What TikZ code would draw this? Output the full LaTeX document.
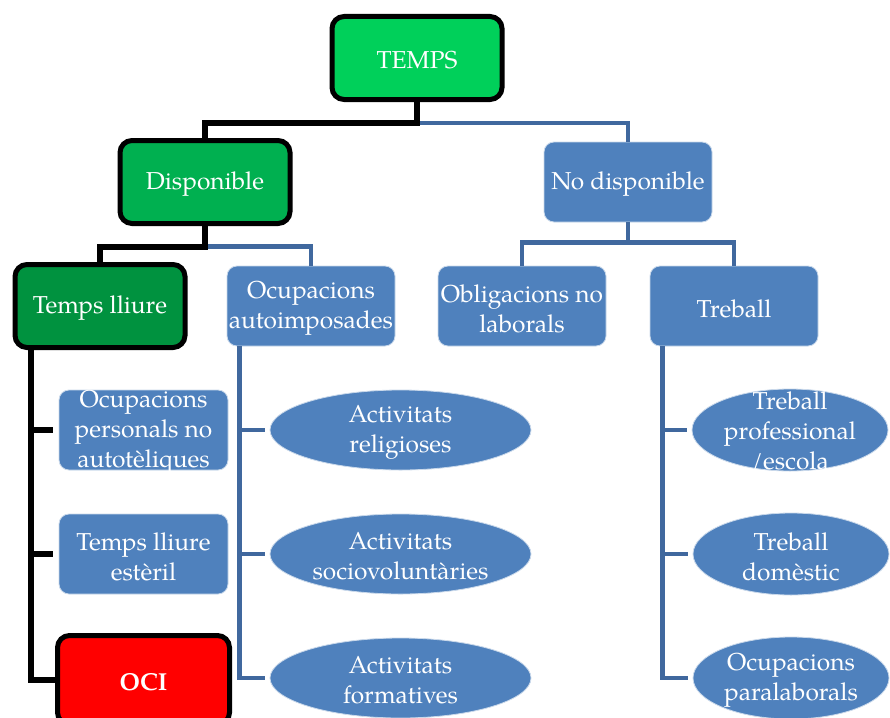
\documentclass[tikz,border=0pt]{standalone}
\usepackage{fontspec}
\setmainfont{TeX Gyre Pagella}
\usetikzlibrary{shapes.geometric}
\definecolor{bfill}{RGB}{79,129,189}
\definecolor{bline}{RGB}{64,104,158}
\definecolor{gA}{RGB}{0,208,90}
\definecolor{gB}{RGB}{0,176,80}
\definecolor{gC}{RGB}{0,146,63}
\begin{document}
\begin{tikzpicture}[x=1pt,y=-1pt,
  hbox/.style={rectangle, rounded corners=12pt, draw=black, line width=5pt, minimum width=170pt, minimum height=83pt, inner sep=0pt},
  bbox/.style={rectangle, rounded corners=10pt, fill=bfill, draw=white!70!bfill, line width=0.8pt, minimum width=168pt, minimum height=80pt, inner sep=0pt},
  bell/.style={ellipse, fill=bfill, draw=white!70!bfill, line width=0.8pt, inner sep=0pt},
  lbl/.style={text=white, align=center, font=\fontsize{24.5}{30}\selectfont, inner sep=0pt, yshift=-2.5pt},
  blk/.style={draw=black, line width=6pt},
  blu/.style={draw=bline, line width=4.6pt}]
\clip (0,0) rectangle (890,717);
\fill[white] (0,0) rectangle (890,717);
% shapes
\node[hbox, fill=gA] (temps) at (417,58) {};
\node[hbox, fill=gB] (disp) at (205,182) {};
\node[hbox, fill=gC] (tl) at (100,306) {};
\node[bbox] (nodisp) at (628,182) {};
\node[bbox] (oa) at (311,306) {};
\node[bbox] (obl) at (522,306) {};
\node[bbox] (treb) at (734,306) {};
\node[bbox, minimum width=169pt] (opn) at (143.5,430) {};
\node[bbox, minimum width=169pt] (tle) at (143.5,554) {};
\node[hbox, fill=red, minimum width=172pt, minimum height=89pt] (oci) at (143.5,680) {};
\node[bell, minimum width=261pt, minimum height=80pt] (ar) at (400.5,430) {};
\node[bell, minimum width=261pt, minimum height=80pt] (as) at (400.5,554) {};
\node[bell, minimum width=261pt, minimum height=80pt] (af) at (400.5,678) {};
\node[bell, minimum width=196pt, minimum height=82pt] (tp) at (790,430) {};
\node[bell, minimum width=196pt, minimum height=82pt] (td) at (791,554) {};
\node[bell, minimum width=196pt, minimum height=82pt] (op) at (791,678) {};
% connectors
\draw[blu] (temps.south) -- ++(0,21) -| (nodisp.north);
\draw[blk] (temps.south) -- ++(0,21) -| (disp.north);
\draw[blu] (disp.south) -- ++(0,20.5) -| (oa.north);
\draw[blk] (disp.south) -- ++(0,20.5) -| (tl.north);
\draw[blu] (nodisp.south) -- ++(0,20) -| (obl.north);
\draw[blu] (nodisp.south) -- ++(0,20) -| (treb.north);
\coordinate (tlr) at ([xshift=-69pt]tl.south);
\draw[blk] (tlr) |- ([xshift=-6pt]opn.west);
\draw[blk] (tlr) |- ([xshift=-6pt]tle.west);
\draw[blk] (tlr) |- (oci.west);
\coordinate (oar) at ([xshift=13pt]oa.south west);
\draw[blu] (oar) |- ([xshift=-5pt]ar.west);
\draw[blu] (oar) |- ([xshift=-5pt]as.west);
\draw[blu] (oar) |- ([xshift=-5pt]af.west);
\coordinate (trr) at ([xshift=13pt]treb.south west);
\draw[blu] (trr) |- ([xshift=-5pt]tp.west);
\draw[blu] (trr) |- ([xshift=-5pt]td.west);
\draw[blu] (trr) |- ([xshift=-5pt]op.west);
% labels
\node[lbl] at (temps) {TEMPS};
\node[lbl] at (disp) {Disponible};
\node[lbl] at (tl) {Temps lliure};
\node[lbl] at (nodisp) {No disponible};
\node[lbl] at (oa) {Ocupacions\\autoimposades};
\node[lbl] at (obl) {Obligacions no\\laborals};
\node[lbl] at (treb) {Treball};
\node[lbl] at (opn) {Ocupacions\\personals no\\autotèliques};
\node[lbl] at (tle) {Temps lliure\\estèril};
\node[lbl] at (oci) {\textbf{OCI}};
\node[lbl] at (ar) {Activitats\\religioses};
\node[lbl] at (as) {Activitats\\sociovoluntàries};
\node[lbl] at (af) {Activitats\\formatives};
\node[lbl] at (tp) {Treball\\professional\\/escola};
\node[lbl] at (td) {Treball\\domèstic};
\node[lbl] at (op) {Ocupacions\\paralaborals};
\end{tikzpicture}
\end{document}
